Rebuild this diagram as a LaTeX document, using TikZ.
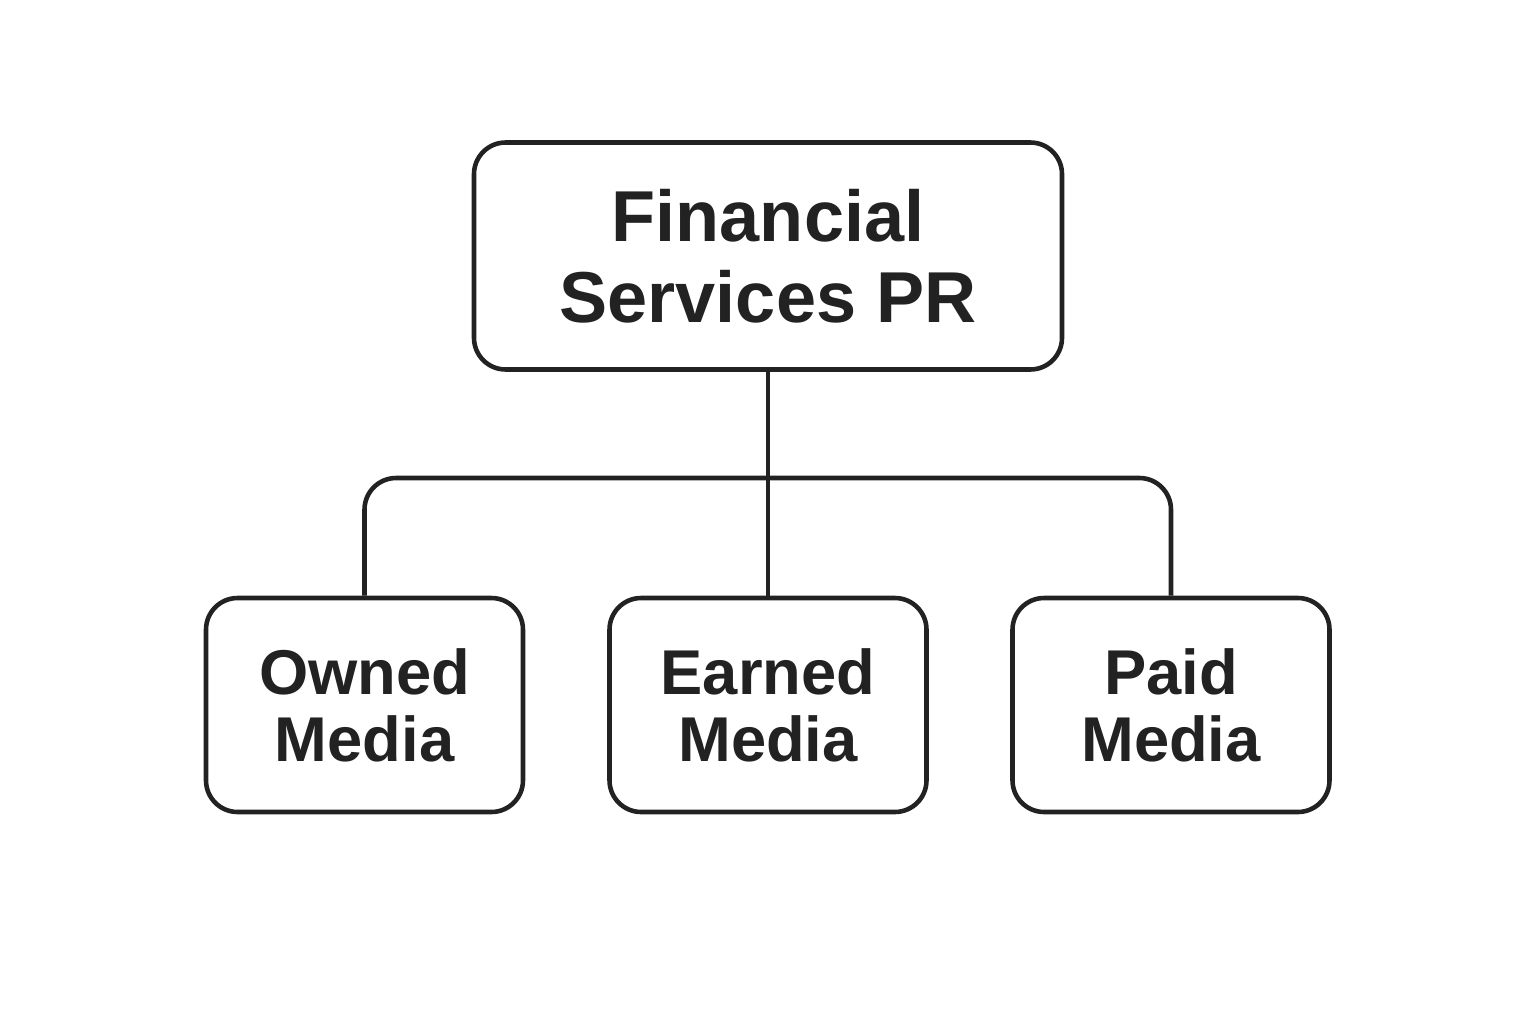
\documentclass[tikz,border=0pt]{standalone}
\usepackage{fontspec}
\setmainfont{Liberation Sans}
\usetikzlibrary{positioning}
\definecolor{inkgray}{HTML}{222222}

\begin{document}
\begin{tikzpicture}[x=0.01cm,y=-0.01cm,
    box/.style={draw=inkgray, line width=1.3pt, rounded corners=9pt, align=center,
        text=inkgray, font=\bfseries, inner sep=0pt},
    link/.style={draw=inkgray, line width=1.3pt, rounded corners=9pt}]

	%Canvas
	\useasboundingbox (0,0) rectangle (1536,1024);

	%Top box
	\node[box, minimum width=588*0.01cm, minimum height=227*0.01cm,
	      font=\fontsize{20.5}{23}\selectfont\bfseries] (root) at (768,256) {Financial\\Services PR};

	%Media boxes
	\node[box, minimum width=317*0.01cm, minimum height=214*0.01cm,
	      font=\fontsize{18}{19}\selectfont\bfseries] (owned) at (364.5,705) {Owned\\Media};
	\node[box, minimum width=317*0.01cm, minimum height=214*0.01cm,
	      font=\fontsize{18}{19}\selectfont\bfseries] (earned) at (768,705) {Earned\\Media};
	\node[box, minimum width=317*0.01cm, minimum height=214*0.01cm,
	      font=\fontsize{18}{19}\selectfont\bfseries] (paid) at (1171,705) {Paid\\Media};

	%Connectors
	\coordinate (bar) at (768,478);
	\draw[link] (root.south) -- (earned.north);
	\draw[link] (owned.north) |- (bar) -| (paid.north);

\end{tikzpicture}
\end{document}
